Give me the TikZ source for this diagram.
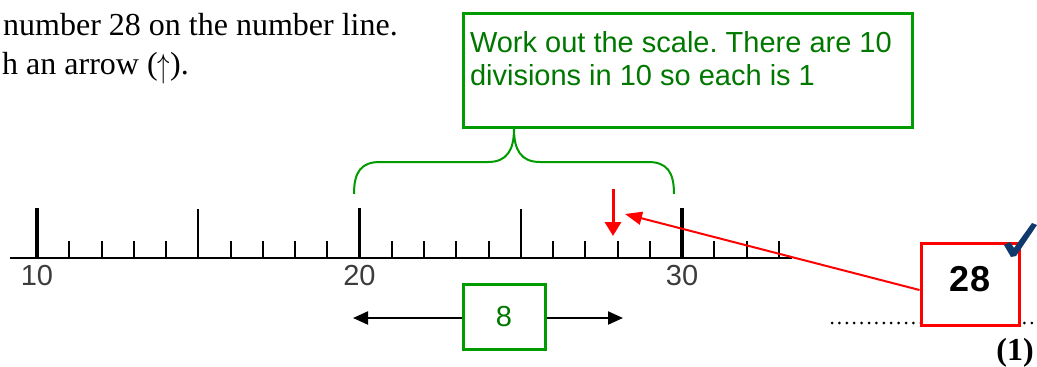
\documentclass[tikz,border=0pt]{standalone}
\usepackage{fontspec}
\setmainfont{Liberation Serif}
\newfontfamily\arialf{Liberation Sans}
\usetikzlibrary{arrows.meta,calc}
\definecolor{boxgreen}{RGB}{0,155,0}
\definecolor{txtgreen}{RGB}{0,120,0}
\definecolor{axisgray}{RGB}{60,60,60}
\definecolor{checkblue}{RGB}{16,58,110}
\frenchspacing
\begin{document}
\begin{tikzpicture}[x=1pt,y=-1pt,
  greenbox/.style={draw=boxgreen, line width=3pt, text=txtgreen, fill=white,
    font=\arialf\fontsize{29}{33}\selectfont},
  numlabel/.style={anchor=north, inner sep=0pt, text=axisgray, font=\arialf\fontsize{29}{29}\selectfont},
  tasktext/.style={anchor=base west, inner sep=0pt, font=\fontsize{32}{39}\selectfont},
  axisline/.style={line width=2pt, black},
  minortick/.style={line width=2pt, black},
  majortick/.style={line width=3.5pt, black},
  bracestyle/.style={draw=boxgreen, line width=2pt},
  blackarrow/.style={line width=2pt, black, -{Triangle[length=15pt,width=13pt]}},
  redarrow/.style={line width=3pt, red, -{Triangle[length=14pt,width=16pt]}},
  redline/.style={line width=2pt, red, -{Triangle[length=17pt,width=13pt]}},
  dotline/.style={line width=3pt, line cap=round, dash pattern=on 0pt off 7.4pt},
]
\useasboundingbox (0,0) rectangle (1037,367);

% task text
\node[tasktext] (line1) at (3,35) {number 28 on the number line.};
\node[tasktext] (line2) at (2,74) {h an arrow (\raisebox{-3pt}{\scalebox{1}[1.35]{$\uparrow$}}).};

% number line
\draw[axisline] (10,258) -- (792,258);
\foreach \i in {1,...,23}{
  \draw[minortick] ({37+\i*32.25},241) -- ({37+\i*32.25},258);
}
\foreach \i in {5,15}{
  \draw[minortick] ({37+\i*32.25},209) -- ({37+\i*32.25},258);
}
\foreach \i in {0,10,20}{
  \draw[majortick] ({37+\i*32.25},208) -- ({37+\i*32.25},258);
}
\node[numlabel] (l10) at (37,265) {10};
\node[numlabel] (l20) at (359.5,265) {20};
\node[numlabel] (l30) at (682,265) {30};

% scale box and brace
\node[greenbox, inner xsep=7pt, inner ysep=0pt] (scale) at (687.5,70)
  {\begin{minipage}[c][114pt][t]{435pt}\raggedright
   \rule{0pt}{39pt}Work out the scale. There are 10\\divisions in 10 so each is 1\end{minipage}};
\coordinate (b20) at (354,194);
\coordinate (b30) at (674,194);
\coordinate (bracetip) at (514,129);
\draw[bracestyle] (b20) .. controls (354,172) and (361,162) .. (380,162)
  -- (488,162) .. controls (507,162) and (514,150) .. (bracetip)
  .. controls (514,150) and (521,162) .. (540,162)
  -- (648,162) .. controls (667,162) and (674,172) .. (b30);

% red answer arrow on the line
\coordinate (marktop) at (613,189);
\coordinate (mark) at (613,236);
\draw[redarrow] (marktop) -- (mark);

% distance box 8
\node[greenbox, minimum width=82pt, minimum height=65pt] (eight) at (504,317) {8};
\coordinate (leftend) at (353,318);
\coordinate (rightend) at (623,318);
\draw[blackarrow] (eight.west |- leftend) -- (leftend);
\draw[blackarrow] (eight.east |- rightend) -- (rightend);

% answer line and box
\draw[dotline] (832,323) -- (1037,323);
\node[draw=red, line width=3pt, fill=white, minimum width=98pt, minimum height=82pt,
  font=\arialf\bfseries\fontsize{36}{36}\selectfont, text depth=10pt] (ans) at (970,284) {28};
\coordinate (tip) at (625,214);
\draw[redline] ($(ans.west)+(0,6)$) -- (tip);

% tick mark
\fill[checkblue] (1004,245) -- (1010,242) -- (1014,248) -- (1032,223) -- (1037,225)
  -- (1016,256) -- (1011,257) -- cycle;

\node[anchor=base east, inner sep=0pt, font=\bfseries\fontsize{32}{32}\selectfont] (marks) at (1034,360) {(1)};
\end{tikzpicture}
\end{document}
